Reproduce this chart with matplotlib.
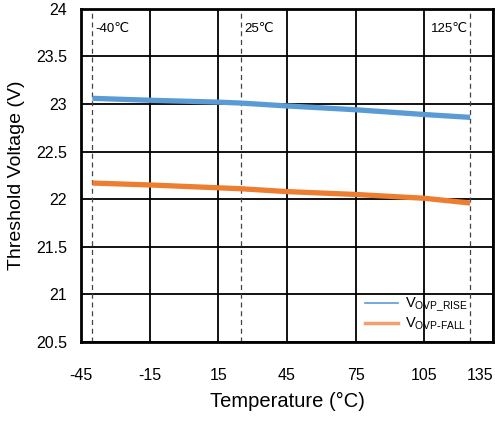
import matplotlib
matplotlib.use("Agg")
import matplotlib.pyplot as plt
from matplotlib.lines import Line2D

plt.rcParams['font.family'] = ['Liberation Sans', 'DejaVu Sans']
plt.rcParams['axes.unicode_minus'] = False

temps = [-40, -15, 15, 25, 45, 75, 105, 125]
v_rise = [23.06, 23.04, 23.02, 23.01, 22.98, 22.94, 22.89, 22.86]
v_fall = [22.17, 22.15, 22.12, 22.11, 22.08, 22.05, 22.01, 21.96]
x_ticks = [-45, -15, 15, 45, 75, 105, 135]
x_tick_labels = ['-45', '-15', '15', '45', '75', '105', '135']
y_ticks = [20.5, 21, 21.5, 22, 22.5, 23, 23.5, 24]
y_tick_labels = ['20.5', '21', '21.5', '22', '22.5', '23', '23.5', '24']
marker_temps = [-40, 25, 125]
marker_labels = ['-40\u2103', '25\u2103', '125\u2103']

fig = plt.figure(figsize=(4.95, 4.22), dpi=100)
ax = fig.add_axes([0.1636, 0.1896, 0.8324, 0.7894])

ax.set_xlim(-45, 135)
ax.set_ylim(20.5, 24)
ax.set_xticks(x_ticks)
ax.set_xticklabels(x_tick_labels)
ax.set_yticks(y_ticks)
ax.set_yticklabels(y_tick_labels)
ax.get_xticklabels()[-1].set_horizontalalignment('right')
ax.get_xticklabels()[-1].set_x(0)
ax.grid(True, color='black', linewidth=1.3)
ax.set_axisbelow(True)
for s in ax.spines.values():
    s.set_linewidth(2)
    s.set_color('black')
ax.tick_params(axis='both', length=0, labelsize=11.5)
ax.tick_params(axis='x', pad=19)
ax.tick_params(axis='y', pad=10)

for t in marker_temps:
    ax.axvline(t, color='#444444', linewidth=0.9, linestyle=(0, (4, 3)), zorder=2)

ax.plot(temps, v_rise, color='#5B9BD5', linewidth=3.8, solid_capstyle='butt', zorder=3)
ax.plot(temps, v_fall, color='#ED7D31', linewidth=3.8, solid_capstyle='butt', zorder=3)

for t, lab in zip(marker_temps, marker_labels):
    if t == 125:
        ax.text(t - 1, 23.79, lab, ha='right', va='center', fontsize=9.5)
    else:
        ax.text(t + 1.5, 23.79, lab, ha='left', va='center', fontsize=9.5)

ax.set_xlabel('Temperature (\u00b0C)', fontsize=14.5, labelpad=6)
ax.set_ylabel('Threshold Voltage (V)', fontsize=14, labelpad=8)

handles = [Line2D([], [], color='#5B9BD5', linewidth=1.2),
           Line2D([], [], color='#F4A06A', linewidth=2.5)]
labels = [r'$\mathregular{V_{OVP\_RISE}}$', r'$\mathregular{V_{OVP\text{-}FALL}}$']
ax.legend(handles, labels, loc='lower right', frameon=False, fontsize=10.5,
          handlelength=2.2, handletextpad=0.5, labelspacing=0.1,
          bbox_to_anchor=(0.97, -0.01))

fig.savefig('out.png', dpi=100)
